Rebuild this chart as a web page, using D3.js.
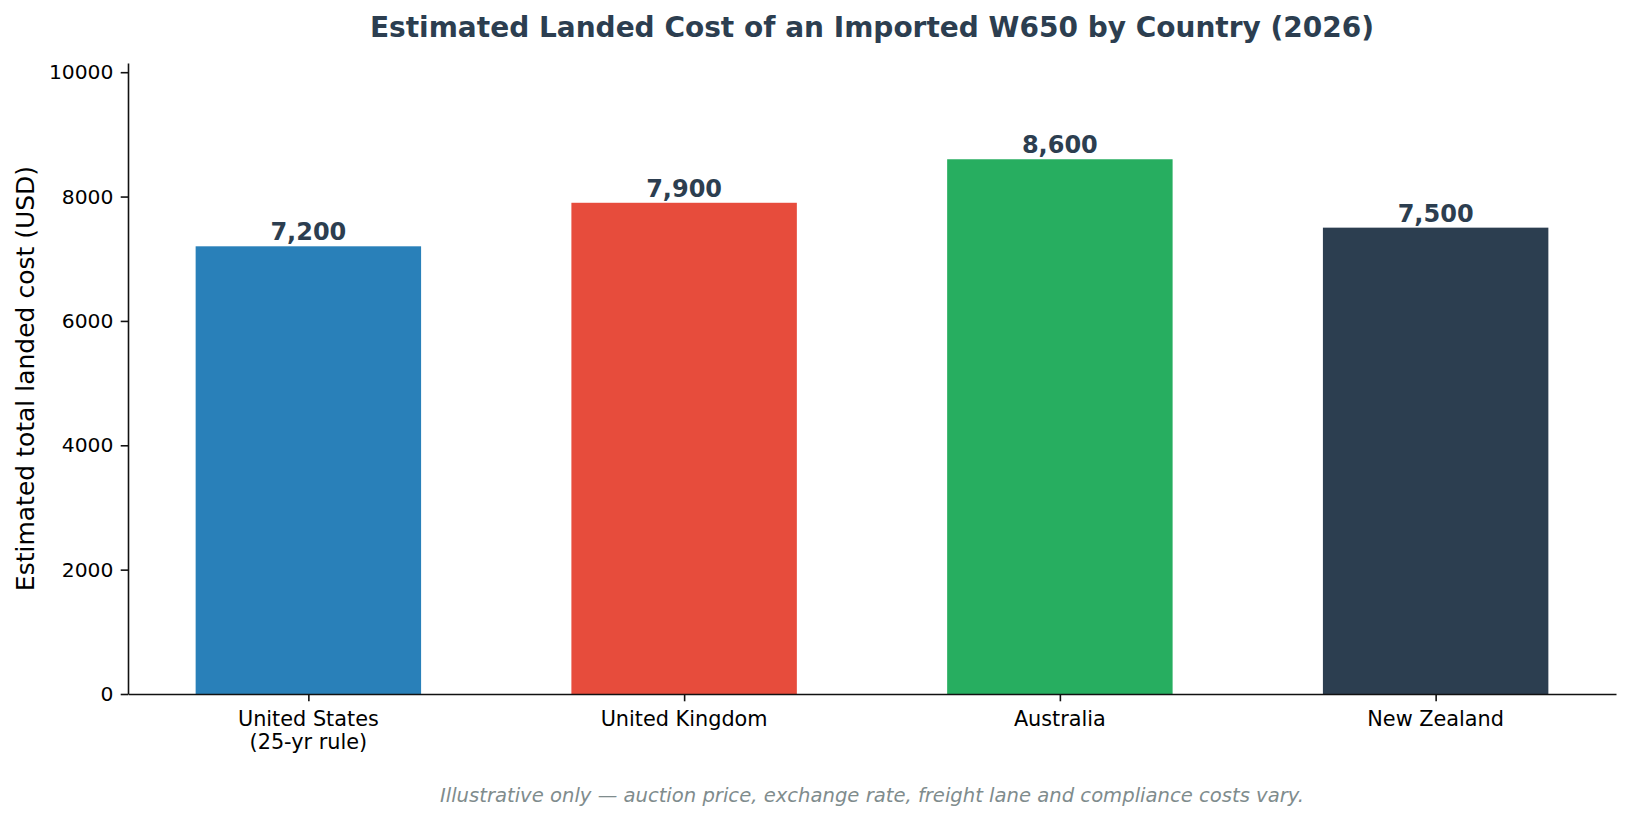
<!DOCTYPE html>
<html>
<head>
<meta charset="utf-8">
<script src="https://cdn.jsdelivr.net/npm/d3@7"></script>
<style>
  html, body { margin: 0; padding: 0; background: #fff; }
  svg { display: block; font-family: "DejaVu Sans", sans-serif; }
</style>
</head>
<body>
<svg id="chart" width="1632" height="821"></svg>
<script>
// chart data
const countries = ['United States\n(25-yr rule)', 'United Kingdom', 'Australia', 'New Zealand'];
const landedCost = [7200, 7900, 8600, 7500];
const barColors = ['#2980b9', '#e74c3c', '#27ae60', '#2c3e50'];
const yTicks = [0, 2000, 4000, 6000, 8000, 10000];

const FONT = '"DejaVu Sans", sans-serif';
const svg = d3.select('#chart');
const margin = {top: 63, right: 16, bottom: 127, left: 128};
const width = 1632, height = 821;
const innerW = width - margin.left - margin.right;
const innerH = height - margin.top - margin.bottom;

const g = svg.append('g').attr('transform', `translate(${margin.left},${margin.top})`);

// matplotlib-like x axis: bars at integer positions, width 0.6, 5% margins
const x = d3.scaleLinear().domain([-0.48, countries.length - 1 + 0.48]).range([0, innerW]);
const y = d3.scaleLinear().domain([0, d3.max(landedCost) * 1.18]).range([innerH, 0]);
const barW = x(0.6) - x(0);

g.selectAll('rect.bar').data(landedCost).enter().append('rect')
  .attr('class', 'bar')
  .attr('x', (d, i) => x(i) - barW / 2)
  .attr('y', d => y(d))
  .attr('width', barW)
  .attr('height', d => innerH - y(d))
  .attr('fill', (d, i) => barColors[i]);

g.selectAll('text.val').data(landedCost).enter().append('text')
  .attr('class', 'val')
  .attr('x', (d, i) => x(i))
  .attr('y', d => y(d) - 6)
  .attr('text-anchor', 'middle')
  .attr('font-size', 24)
  .attr('font-weight', 'bold')
  .attr('fill', '#2c3e50')
  .text(d => d3.format(',')(d));

// y axis
const yAxis = g.append('g')
  .call(d3.axisLeft(y).tickValues(yTicks).tickFormat(d3.format('d')).tickSize(7.3).tickPadding(7.3).tickSizeOuter(0))
  .attr('font-family', FONT);
yAxis.select('.domain').attr('stroke', '#111').attr('stroke-width', 1.6);
yAxis.selectAll('.tick line').attr('stroke', '#111').attr('stroke-width', 1.6);
yAxis.selectAll('.tick text').attr('font-size', 20.3).attr('fill', '#000');

// x axis
const xAxis = g.append('g').attr('transform', `translate(0,${innerH})`)
  .call(d3.axisBottom(x).tickValues(d3.range(countries.length)).tickFormat('').tickSize(7.3).tickSizeOuter(0))
  .attr('font-family', FONT);
xAxis.select('.domain').attr('stroke', '#111').attr('stroke-width', 1.6);
xAxis.selectAll('.tick line').attr('stroke', '#111').attr('stroke-width', 1.6);

countries.forEach((c, i) => {
  const t = xAxis.append('text')
    .attr('x', x(i))
    .attr('y', 31.5)
    .attr('text-anchor', 'middle')
    .attr('font-size', 20.8)
    .attr('fill', '#000');
  c.split('\n').forEach((line, k) => {
    t.append('tspan').attr('x', x(i)).attr('dy', k === 0 ? 0 : 23.5).text(line);
  });
});

// y label
svg.append('text')
  .attr('transform', `translate(34,${margin.top + innerH / 2}) rotate(-90)`)
  .attr('text-anchor', 'middle')
  .attr('font-size', 25)
  .attr('fill', '#000')
  .text('Estimated total landed cost (USD)');

// title
svg.append('text')
  .attr('x', margin.left + innerW / 2)
  .attr('y', 37)
  .attr('text-anchor', 'middle')
  .attr('font-size', 28)
  .attr('font-weight', 'bold')
  .attr('fill', '#2c3e50')
  .text('Estimated Landed Cost of an Imported W650 by Country (2026)');

// footnote
svg.append('text')
  .attr('x', margin.left + innerW / 2)
  .attr('y', 802)
  .attr('text-anchor', 'middle')
  .attr('font-size', 19.6)
  .attr('font-style', 'italic')
  .attr('fill', '#7f8c8d')
  .text('Illustrative only \u2014 auction price, exchange rate, freight lane and compliance costs vary.');
</script>
</body>
</html>
